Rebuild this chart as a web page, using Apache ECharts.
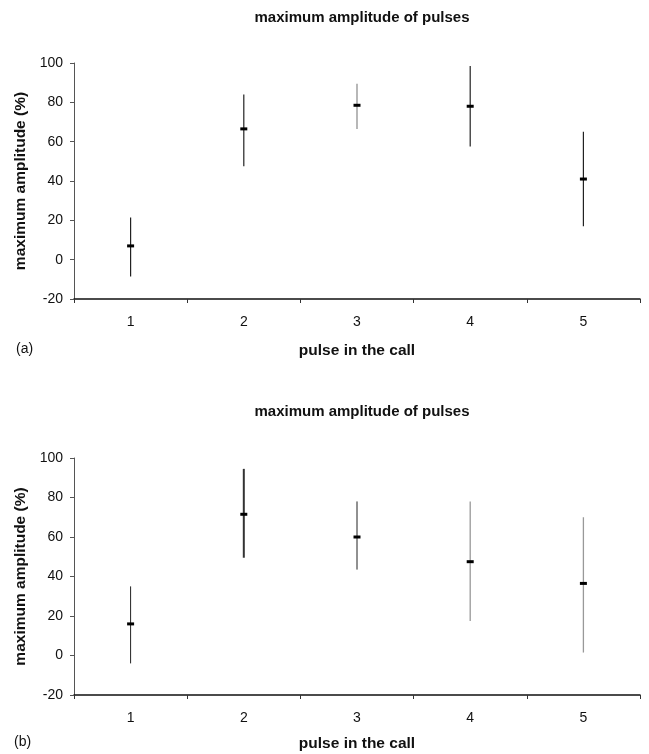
<!DOCTYPE html>
<html>
<head>
<meta charset="utf-8">
<script src="https://cdn.jsdelivr.net/npm/echarts@6/dist/echarts.min.js"></script>
<style>html,body{margin:0;padding:0;background:#fff;}#c{width:649px;height:754px;}</style>
</head>
<body>
<div id="c"></div>
<script>
const categories = ['1', '2', '3', '4', '5'];
const meanA = [7, 66.5, 78.5, 78, 41];
const lowA = [-8.5, 47.5, 66.5, 57.5, 17];
const highA = [21.5, 84, 89.5, 98.5, 65];
const meanB = [16, 71.5, 60, 47.5, 36.5];
const lowB = [-4, 49.5, 43.5, 17.5, 1.5];
const highB = [35, 94.5, 78, 78, 70];
const yMin = -20, yMax = 100, yStep = 20;
const titleText = 'maximum amplitude of pulses';
const xName = 'pulse in the call';
const yName = 'maximum amplitude (%)';

const barColorsA = ['#222', '#222', '#888', '#222', '#222'];
const barColorsB = ['#222', '#333', '#222', '#999', '#999'];
const barWidthsB = [1, 2, 1, 1.3, 1.3];
const FONT = '"Liberation Sans", Arial, Helvetica, sans-serif';

function makeData(mean, low, high) {
  return categories.map((c, i) => [i, mean[i], low[i], high[i]]);
}
function makeRender(colors, widths) {
  return function (params, api) {
    const i = api.value(0);
    const m = api.coord([i, api.value(1)]);
    const lo = api.coord([i, api.value(2)]);
    const hi = api.coord([i, api.value(3)]);
    const idx = params.dataIndex;
    return {
      type: 'group',
      children: [
        { type: 'line', shape: { x1: lo[0], y1: lo[1], x2: hi[0], y2: hi[1] },
          style: { stroke: colors[idx], lineWidth: widths ? widths[idx] : 1.2 } },
        { type: 'rect', shape: { x: m[0] - 3.5, y: m[1] - 1.5, width: 7, height: 3 },
          style: { fill: '#000' } }
      ]
    };
  };
}
function xAxisCfg(gridIndex, nameGap) {
  return {
    type: 'category', gridIndex, data: categories, boundaryGap: true,
    name: xName, nameLocation: 'middle', nameGap,
    nameTextStyle: { fontFamily: FONT, fontWeight: 'bold', fontSize: 15.5, color: '#111' },
    axisLine: { onZero: false, lineStyle: { color: '#111', width: 1.5 } },
    axisTick: { show: true, length: 4, inside: false, lineStyle: { color: '#333' } },
    axisLabel: { fontFamily: FONT, fontSize: 14, color: '#111', margin: 16 },
    splitLine: { show: false }
  };
}
function yAxisCfg(gridIndex) {
  return {
    type: 'value', gridIndex, min: yMin, max: yMax, interval: yStep,
    name: yName, nameLocation: 'middle', nameGap: 44, nameRotate: 90,
    nameTextStyle: { fontFamily: FONT, fontWeight: 'bold', fontSize: 15.5, color: '#111' },
    axisLine: { show: true, lineStyle: { color: '#555', width: 1 } },
    axisTick: { show: true, length: 4, lineStyle: { color: '#555' } },
    axisLabel: { fontFamily: FONT, fontSize: 14, color: '#111', margin: 11 },
    splitLine: { show: false }
  };
}

const chart = echarts.init(document.getElementById('c'), null, { renderer: 'canvas' });
chart.setOption({
  backgroundColor: '#fff',
  animation: false,
  title: [
    { text: titleText, left: 357, top: 5, textAlign: 'center',
      textStyle: { fontFamily: FONT, fontWeight: 'bold', fontSize: 15, color: '#111' } },
    { text: titleText, left: 357, top: 399, textAlign: 'center',
      textStyle: { fontFamily: FONT, fontWeight: 'bold', fontSize: 15, color: '#111' } }
  ],
  grid: [
    { left: 74, top: 63, right: 9, height: 236 },
    { left: 74, top: 458, right: 9, height: 237 }
  ],
  xAxis: [xAxisCfg(0, 44), xAxisCfg(1, 41)],
  yAxis: [yAxisCfg(0), yAxisCfg(1)],
  graphic: [
    { type: 'text', left: 16, top: 342, style: { text: '(a)', font: '14px ' + FONT, fill: '#111' } },
    { type: 'text', left: 14, top: 735, style: { text: '(b)', font: '14px ' + FONT, fill: '#111' } }
  ],
  series: [
    { type: 'custom', xAxisIndex: 0, yAxisIndex: 0, renderItem: makeRender(barColorsA),
      data: makeData(meanA, lowA, highA), encode: { x: 0, y: [1, 2, 3] } },
    { type: 'custom', xAxisIndex: 1, yAxisIndex: 1, renderItem: makeRender(barColorsB, barWidthsB),
      data: makeData(meanB, lowB, highB), encode: { x: 0, y: [1, 2, 3] } }
  ]
});
</script>
</body>
</html>
